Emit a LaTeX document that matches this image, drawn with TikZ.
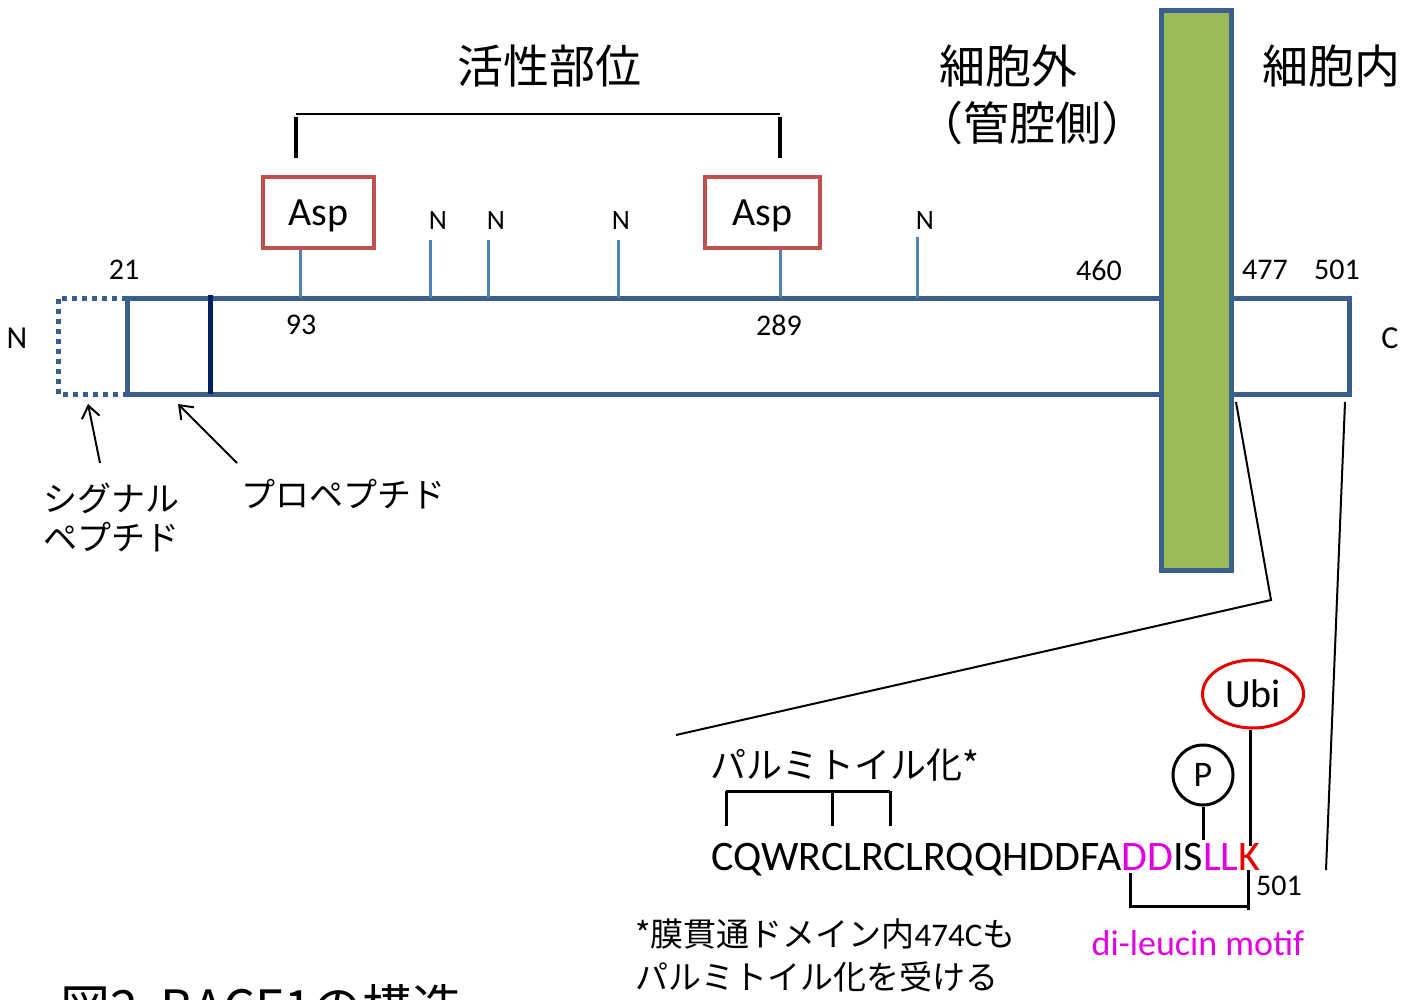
\documentclass[tikz,border=0pt]{standalone}
\usepackage{fontspec}
\setmainfont{Carlito}
\newfontfamily\jp{Noto Sans CJK JP}
\usetikzlibrary{arrows.meta,shapes.geometric}
\definecolor{frame}{RGB}{58,95,140}
\definecolor{tickblue}{RGB}{79,129,189}
\definecolor{navyline}{RGB}{0,32,96}
\definecolor{tmgreen}{RGB}{155,187,89}
\definecolor{aspred}{RGB}{192,80,77}
\definecolor{mag}{RGB}{225,0,225}
\definecolor{ubired}{RGB}{230,0,0}
\newcommand{\fs}[1]{\fontsize{#1}{#1}\selectfont}
\newcommand{\asptext}{\raisebox{-13pt}[0pt][0pt]{Asp}}
\tikzset{
  aspbox/.style={draw=aspred, line width=4, minimum height=71, inner sep=0pt, font=\fs{40}},
  bluetick/.style={tickblue, line width=3},
  frameline/.style={frame, line width=5},
  num/.style={font=\fs{30}, inner sep=0pt},
  nlab/.style={font=\fs{28}, inner sep=0pt},
  jtitle/.style={font=\jp\fs{46}, inner sep=0pt},
  jkat/.style={font=\jp\fs{34}, inner sep=0pt, anchor=west},
  blk/.style={black, line width=3},
  thin/.style={black, line width=2},
  arr/.style={black, line width=2, -{Straight Barb[length=12, width=18]}},
}
\begin{document}
\begin{tikzpicture}[x=1pt, y=-1pt]
\useasboundingbox (0,0) rectangle (1407,999);
\clip (0,0) rectangle (1407,999);

% main chain
\draw[frameline] (127,298) rectangle (1349,394);
\draw[frameline, dash pattern=on 5 off 5] (127,298) -- (58,298) -- (58,394) -- (127,394);
\draw[navyline, line width=5] (210,295) -- (210,394);

% positions on the chain
\coordinate (p93) at (300,298);
\coordinate (pn1) at (430,298);
\coordinate (pn2) at (488,298);
\coordinate (pn3) at (618,298);
\coordinate (p289) at (780,298);
\coordinate (pn4) at (917,298);

% Asp boxes
\node[aspbox, minimum width=111] (asp1) at (318.5,212.5) {\asptext};
\node[aspbox, minimum width=115] (asp2) at (762.5,212.5) {\asptext};
\draw[bluetick] (p93) -- (p93 |- asp1.south);
\draw[bluetick] (p289) -- (p289 |- asp2.south);

% N-glycosylation ticks
\node[nlab] (n1) at (438,221) {N};
\node[nlab] (n2) at (496,221) {N};
\node[nlab] (n3) at (621,221) {N};
\node[nlab] (n4) at (925,221) {N};
\draw[bluetick] (pn1) -- ++(0,-58);
\draw[bluetick] (pn2) -- ++(0,-58);
\draw[bluetick] (pn3) -- ++(0,-58);
\draw[bluetick] (pn4) -- ++(0,-61);

% active site bracket
\coordinate (bl) at (296,114);
\coordinate (br) at (780,114);
\draw[thin] (bl) -- (br);
\draw[line width=3.5] (296,117) -- (296,158);
\draw[line width=3.5] (780,117) -- (780,158);
\node[jtitle] (act) at (549,66) {活性部位};

% transmembrane
\draw[frameline, fill=tmgreen] (1161,10) rectangle (1231,570);
\node[jtitle] (extra) at (1008,66) {細胞外};
\node[jtitle] (lumen) at (1032,123) {（管腔側）};
\node[jtitle] (intra) at (1331,66) {細胞内};

% numbers
\node[num] (l21) at (124,270) {21};
\node[num] (l93) at (301,325) {93};
\node[num] (l289) at (779,325) {289};
\node[num] (l460) at (1099,270) {460};
\node[num] (l477) at (1265,270) {477};
\node[num] (l501) at (1337,270) {501};
\node[font=\fs{32}, inner sep=0pt] (nterm) at (17,338) {N};
\node[font=\fs{32}, inner sep=0pt] (cterm) at (1390,338) {C};

% signal / propeptide arrows
\node[jkat] (sig1) at (43,498) {シグナル};
\node[jkat] (sig2) at (43,537) {ペプチド};
\node[jkat] (pro) at (241,494) {プロペプチド};
\coordinate (sigtail) at (100,463);
\coordinate (sighead) at (88,404);
\coordinate (protail) at (237,463);
\coordinate (prohead) at (178,404);
\draw[arr] (sigtail) -- (sighead);
\draw[arr] (protail) -- (prohead);

% zoom lines
\coordinate (z1) at (1236,402);
\coordinate (z2) at (1271,600);
\coordinate (z3) at (676,735);
\coordinate (z4) at (1345,402);
\coordinate (z5) at (1326,870);
\draw[thin] (z1) -- (z2) -- (z3);
\draw[thin] (z4) -- (z5);

% sequence
\node[font=\fs{42}, inner sep=0pt, anchor=base west] (seq) at (711,870)
  {CQWRCLRCLRQQHDDFA\textcolor{mag}{DD}IS\textcolor{mag}{LL}\textcolor{ubired}{K}};

% palmitoylation bracket
\node[font=\jp\fs{36}, inner sep=0pt, anchor=west] (palm) at (710,765) {パルミトイル化*};
\draw[blk] (726,791) -- (890,791);
\draw[blk] (726,791) -- (726,826);
\draw[blk] (832,791) -- (832,826);
\draw[blk] (890,791) -- (890,826);

% phosphorylation
\node[draw, circle, line width=3, minimum size=60, inner sep=0pt, font=\fs{36}] (phos) at (1203,775) {P};
\coordinate (sS) at (1203,840);
\draw[blk] (phos.south) -- (sS);

% ubiquitination
\node[draw=ubired, ellipse, line width=3, minimum width=101, minimum height=68, inner sep=0pt, font=\fs{40}] (ubi) at (1253,694) {Ubi};
\coordinate (kK) at (1250,846);
\draw[blk] (kK |- ubi.south) -- (kK);

% di-leucine bracket
\draw[blk] (1130,873) -- (1130,908);
\draw[blk] (1130,906) -- (1248,906);
\draw[blk] (1248,870) -- (1248,910);
\node[font=\fs{30}, inner sep=0pt] (l501b) at (1279,886) {501};
\node[font=\fs{36}, inner sep=0pt, text=mag] (dil) at (1198,943) {di-leucin motif};

% footnote
\node[font=\fs{33}, inner sep=0pt, anchor=west] (fn1) at (635,934) {{\jp *膜貫通ドメイン内}474C{\jp も}};
\node[font=\jp\fs{33}, inner sep=0pt, anchor=west] (fn2) at (635,977) {パルミトイル化を受ける};

% caption (cut off at bottom, as in the reference)
\node[font=\jp\fs{50}, inner sep=0pt, anchor=base west] (cap) at (60,1026) {図2\ \ BACE1の構造};
\end{tikzpicture}
\end{document}
